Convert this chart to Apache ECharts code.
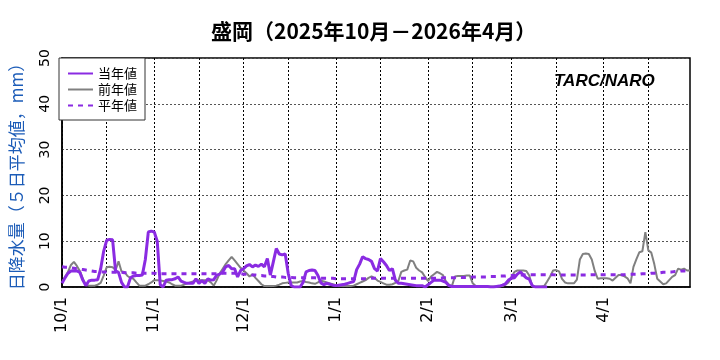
<!DOCTYPE html>
<html><head><meta charset="utf-8">
<script src="https://cdn.jsdelivr.net/npm/echarts@6/dist/echarts.min.js"></script>
<style>html,body{margin:0;padding:0;background:#fff}#c{width:720px;height:360px}</style>
</head><body><div id="c"></div>
<script>
// 2025-10-01 .. 2026-04-30 (212 days)
const startYear = 2025, startMonth = 10, startDay = 1, dayCount = 212;
const yTicks = [0, 10, 20, 30, 40, 50];

// 当年値 (current season, 5-day mean, mm)
const current = [
 0.8,2.0,3.0,3.5,3.5,3.5,3.2,1.5,0.3,1.3,
 1.5,1.5,1.6,4.0,7.8,10.2,10.4,10.3,3.5,3.2,
 1.0,0,0,2.0,2.4,2.5,2.5,2.6,6.0,12.0,
 12.2,12.0,10.0,0.5,0,1.5,1.6,1.6,1.8,2.2,
 1.3,1.0,0.8,0.8,0.8,1.8,0.8,1.4,0.8,1.8,
 1.5,1.6,2.6,2.8,3.3,4.4,4.7,4.0,4.0,2.2,
 3.6,4.0,4.6,4.9,4.4,4.8,4.5,5.0,4.4,6.2,
 2.6,5.5,8.4,7.2,7.0,7.2,3.0,0.3,0,0,
 0,1.0,3.3,3.6,3.7,3.6,2.5,0.9,0.5,0.8,
 0.6,0.4,0.3,0.4,0.5,0.6,0.8,1.0,1.2,3.8,
 5.0,6.6,6.2,6.0,5.6,4.0,3.5,6.2,5.5,4.7,
 3.6,4.0,1.5,0.8,0.8,0.7,0.6,0.5,0.4,0.3,
 0.3,0.3,0,0.5,1.0,1.5,1.5,1.5,1.3,1.0,
 0.3,0.1,0.1,0.1,0.1,0.1,0.1,0.1,0.1,0.1,
 0.1,0.1,0.1,0.1,0,0,0.1,0.2,0.4,0.7,
 1.5,1.9,2.0,2.8,3.3,2.6,2.0,1.7,0.3,0,
 0,0,0,0
];

// 前年値 (previous season)
const previous = [
 1.0,2.2,3.3,4.8,5.5,4.6,3.5,1.8,0.5,0.3,
 0.3,0.3,0.5,0.9,2.5,4.3,4.4,4.3,3.7,5.6,
 3.4,3.3,2.4,2.0,1.8,1.0,0.3,0.3,0.3,0.6,
 1.0,1.5,1.5,1.4,1.3,1.2,1.0,0.6,0.3,0.3,
 0.3,0.5,0.8,1.0,1.2,1.5,1.5,1.5,1.5,1.5,
 1.0,0.3,1.5,3.0,4.0,5.0,5.8,6.6,5.8,5.0,
 4.2,3.6,3.0,2.3,2.8,2.0,1.3,0.6,0.2,0.2,
 0.2,0.2,0.3,0.5,0.8,0.9,1.0,1.0,1.0,1.0,
 1.2,1.3,1.1,1.0,0.8,0.7,1.0,1.4,1.2,1.0,
 0.8,0.6,0.4,0.2,0.2,0.2,0.2,0.2,0.3,0.6,
 0.9,1.2,1.5,2.0,2.3,2.0,1.4,1.1,0.8,0.5,
 0.5,0.6,0.9,1.3,3.3,3.6,3.8,5.8,5.6,4.2,
 3.6,3.2,2.2,1.3,2.3,2.8,3.3,3.0,2.6,1.2,
 0.5,0.2,2.3,2.4,2.4,2.4,2.5,2.5,0.8,0.2,
 0.1,0.1,0.1,0.1,0.1,0.1,0.1,0.1,0.2,0.5,
 1.0,2.2,3.3,3.6,3.6,3.6,3.5,2.5,0.1,0.1,
 0.1,0.1,0.2,1.2,2.3,3.6,3.7,3.4,1.8,1.0,
 0.8,0.8,0.8,1.6,6.0,7.2,7.3,7.2,6.0,3.5,
 1.8,1.9,1.9,1.9,1.8,1.4,2.0,2.6,2.6,2.3,
 1.9,0.8,4.4,6.1,7.6,7.8,12.0,8.0,7.5,5.0,
 1.8,1.2,0.6,0.8,1.5,2.2,2.6,4.0,3.8,4.0,
 3.6,3.6
];

// 平年値 (normal)
const normal = [
 4.4,4.3,4.3,4.2,4.1,4.0,3.9,3.8,3.7,3.6,
 3.5,3.4,3.4,3.3,3.3,3.3,3.2,3.2,3.2,3.2,
 3.2,3.1,3.1,3.1,3.1,3.0,3.0,3.0,3.0,3.0,
 3.0,3.0,2.9,2.9,2.9,2.9,2.9,2.9,2.9,2.9,
 2.9,2.9,2.9,2.9,2.9,2.9,2.9,2.9,2.9,2.9,
 2.9,2.9,2.9,2.9,3.0,3.0,3.0,3.0,3.0,2.9,
 2.9,2.8,2.8,2.7,2.6,2.6,2.5,2.5,2.4,2.4,
 2.3,2.3,2.2,2.2,2.2,2.1,2.1,2.1,2.0,2.0,
 2.0,2.0,2.0,2.0,2.0,2.0,1.9,1.9,1.9,1.9,
 1.9,1.9,1.8,1.8,1.8,1.8,1.8,1.8,1.8,1.8,
 1.8,1.8,1.8,1.8,1.9,1.9,1.9,1.9,1.9,1.9,
 1.9,1.9,1.9,1.9,1.9,1.9,1.9,1.9,1.9,1.9,
 1.9,1.9,1.9,1.9,1.9,1.9,1.9,1.9,2.0,2.0,
 2.0,2.0,2.0,2.0,2.1,2.1,2.1,2.1,2.2,2.2,
 2.2,2.2,2.2,2.2,2.3,2.3,2.3,2.4,2.4,2.4,
 2.5,2.5,2.5,2.6,2.6,2.6,2.7,2.7,2.7,2.7,
 2.7,2.7,2.7,2.7,2.7,2.7,2.6,2.6,2.6,2.6,
 2.6,2.6,2.6,2.6,2.6,2.6,2.6,2.7,2.7,2.7,
 2.7,2.7,2.7,2.7,2.7,2.7,2.7,2.7,2.7,2.7,
 2.8,2.8,2.8,2.8,2.8,2.9,2.9,2.9,3.0,3.0,
 3.1,3.1,3.2,3.2,3.3,3.3,3.4,3.4,3.5,3.5,
 3.6,3.6
];

const categories = [];
for (let i = 0; i < dayCount; i++) {
  const d = new Date(startYear, startMonth - 1, startDay + i);
  categories.push((d.getMonth() + 1) + '/' + d.getDate());
}
const dom = (v) => +v.split('/')[1];

const chart = echarts.init(document.getElementById('c'), null, {renderer: 'canvas'});
chart.setOption({
  animation: false,
  backgroundColor: '#fff',
  title: {
    text: '盛岡（2025年10月－2026年4月）',
    left: 206, top: 16,
    textStyle: {fontFamily: 'Noto Sans CJK JP', fontSize: 21, fontWeight: 'bold', color: '#000'}
  },
  legend: {
    orient: 'vertical', left: 59, top: 58,
    backgroundColor: '#fff', borderColor: '#333', borderWidth: 1, borderRadius: 0,
    padding: [9, 8, 8, 8], itemGap: 3, itemWidth: 25, itemHeight: 12,
    itemStyle: {opacity: 0},
    textStyle: {fontFamily: 'Noto Sans CJK JP', fontSize: 13, color: '#000'},
    data: ['当年値', '前年値', '平年値']
  },
  grid: {left: 59, right: 30, top: 58, bottom: 73, show: true, borderColor: '#000', borderWidth: 1.5, backgroundColor: 'transparent'},
  xAxis: {
    type: 'category', boundaryGap: false, data: categories,
    axisLine: {show: true, lineStyle: {color: '#000', width: 1.5}},
    axisTick: {show: false},
    axisLabel: {
      interval: (i, v) => dom(v) === 1,
      rotate: 90, fontSize: 16, color: '#000', margin: 10,
      fontFamily: 'DejaVu Sans'
    },
    splitLine: {
      show: true,
      interval: (i, v) => dom(v) === 1 || dom(v) === 16,
      lineStyle: {type: [2, 2], color: '#000', width: 1}
    }
  },
  yAxis: {
    type: 'value', min: 0, max: 50, interval: 10,
    name: '日降水量（５日平均値，mm）', nameLocation: 'middle', nameGap: 37,
    nameTextStyle: {fontFamily: 'Noto Sans CJK JP', fontSize: 17, color: '#1c5cb8'},
    axisLine: {show: true, lineStyle: {color: '#000', width: 1.5}},
    axisTick: {show: false},
    axisLabel: {rotate: 90, fontSize: 14, color: '#000', margin: 10, fontFamily: 'DejaVu Sans',
      formatter: (v) => yTicks.includes(v) ? String(v) : ''},
    splitLine: {show: true, lineStyle: {type: [2, 2], color: '#555', width: 1}}
  },
  graphic: [{
    type: 'text', left: 554, top: 73,
    style: {text: 'TARC/NARO', font: 'italic bold 17px "Liberation Sans"', fill: '#000'}
  }],
  series: [
    {name: '平年値', type: 'line', data: normal, symbol: 'none', z: 3,
     lineStyle: {color: '#8a2be2', width: 3, type: [5, 5]}, itemStyle: {color: '#8a2be2'}},
    {name: '前年値', type: 'line', data: previous, symbol: 'none', z: 2,
     lineStyle: {color: '#808080', width: 2}, itemStyle: {color: '#808080'}},
    {name: '当年値', type: 'line', data: current, symbol: 'none', z: 4,
     lineStyle: {color: '#8a2be2', width: 3}, itemStyle: {color: '#8a2be2'}}
  ]
});
</script></body></html>
